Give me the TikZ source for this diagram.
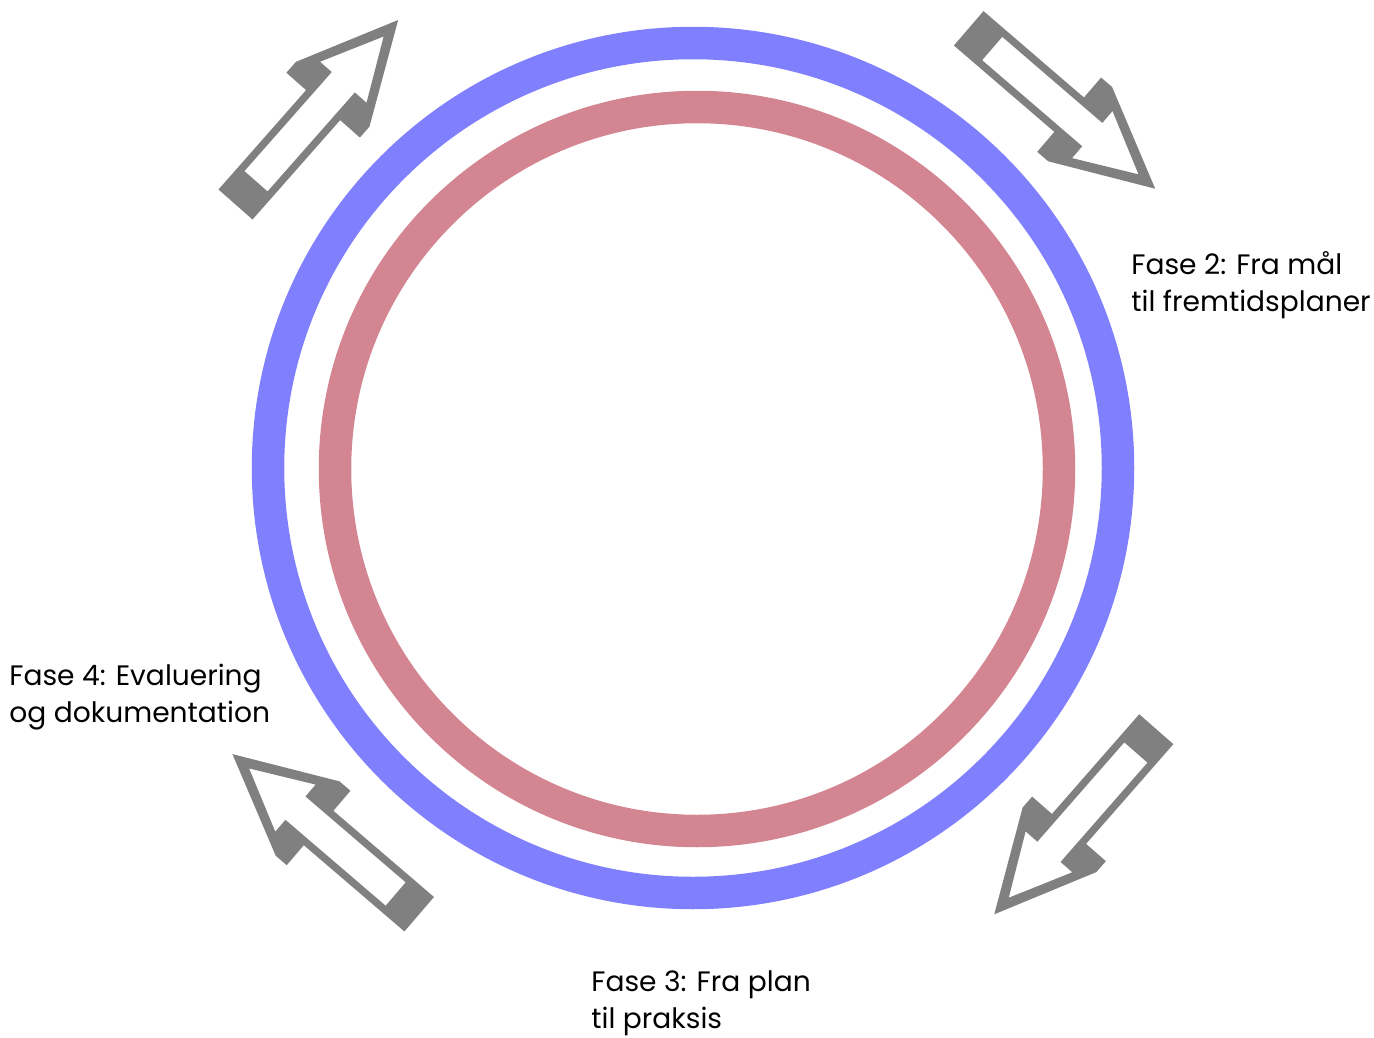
\documentclass[tikz,border=0pt]{standalone}
\usepackage{fontspec}
\setmainfont{Poppins}
\usepackage{tikz}
\definecolor{ringblue}{RGB}{128,128,255}
\definecolor{ringrose}{RGB}{211,134,146}
\definecolor{arrowgrey}{RGB}{128,128,128}

\begin{document}
\begin{tikzpicture}[x=0.02cm, y=-0.02cm, every node/.style={font=\fontsize{16}{21}\selectfont}, fase/.style={align=left,anchor=north west,inner sep=0pt}, ring/.style={line width=0.65cm}, fasearrow/.pic={\fill[arrowgrey,even odd rule] (0,22.7) -- (132.5,22.7) -- (132.5,49) -- (147,49) -- (246,0) -- (147,-49) -- (132.5,-49) -- (132.5,-22.7) -- (0,-22.7) -- cycle (31,15.4) -- (163,15.4) -- (163,31) -- (224,0) -- (163,-31) -- (163,-15.4) -- (31,-15.4) -- cycle;}]
\useasboundingbox (0,0) rectangle (1374,1038);
% the two rings
\coordinate (outer) at (693,468);
\coordinate (inner) at (697,469);
\draw[ring, ringblue] (outer) circle[radius=425];
\draw[ring, ringrose] (inner) circle[radius=362];
% arrows round the cycle
\pic (pilA) [rotate=48.6] at (235.5,204.5) {fasearrow};
\pic (pilB) [rotate=-40.7] at (968.7,28.3) {fasearrow};
\pic (pilC) [rotate=-131.2] at (1156.3,729.2) {fasearrow};
\pic (pilD) [rotate=139.4] at (419.2,914.2) {fasearrow};
% phase labels
\node[fase] (fase2) at (1131,251) {Fase 2: Fra mål\\til fremtidsplaner};
\node[fase] (fase3) at (591,970) {Fase 3: Fra plan\\til praksis};
\node[fase] (fase4) at (9,664) {Fase 4: Evaluering\\og dokumentation};
\end{tikzpicture}
\end{document}
